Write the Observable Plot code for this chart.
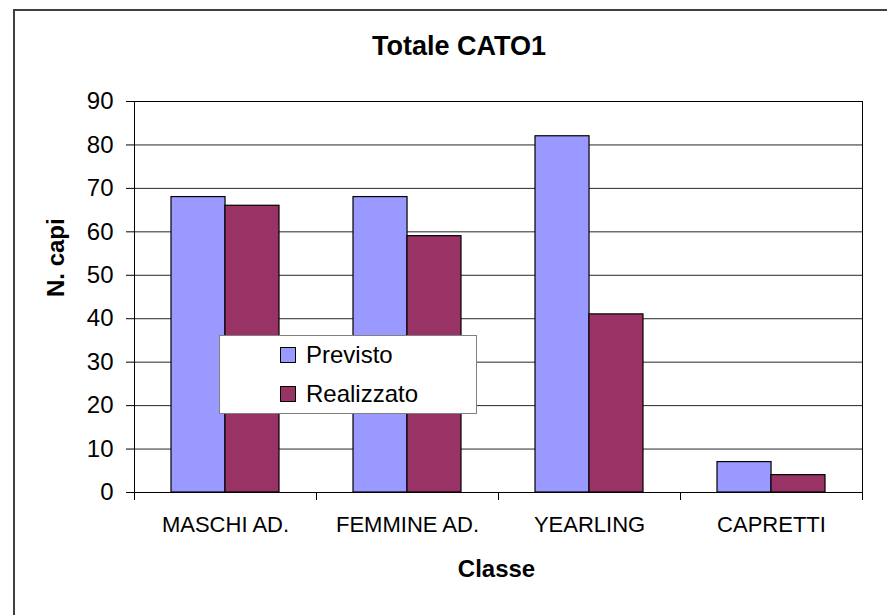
<!DOCTYPE html>
<html>
<head>
<meta charset="utf-8">
<script src="https://cdn.jsdelivr.net/npm/d3@7"></script>
<script src="https://cdn.jsdelivr.net/npm/@observablehq/plot@0.6"></script>
<style>
  html, body { margin: 0; padding: 0; background: #fff; }
  body { width: 887px; height: 615px; position: relative; overflow: hidden; font-family: "Liberation Sans", Arial, sans-serif; }
  #chart { position: absolute; left: 0; top: 0; }
  #border { position: absolute; left: 13px; top: 9px; width: 900px; height: 640px; border-left: 2px solid #404040; border-top: 2px solid #404040; }
  #title { position: absolute; left: 0; width: 918px; top: 33px; text-align: center; font-weight: bold; font-size: 27px; line-height: 27px; }
  #legend { position: absolute; left: 219px; top: 335px; width: 256px; height: 77px; background: #fff; border: 1px solid #808080; }
  .item { position: absolute; left: 60px; font-size: 24px; line-height: 24px; white-space: nowrap; }
  .sw { display: inline-block; width: 14px; height: 14px; border: 1px solid #000; vertical-align: baseline; margin-right: 10px; position: relative; top: 0px; }
</style>
</head>
<body>
<div id="border"></div>
<div id="chart"></div>
<div id="title"></div>
<div id="legend"></div>
<script>
const title = "Totale CATO1";
const categories = ["MASCHI AD.", "FEMMINE AD.", "YEARLING", "CAPRETTI"];
const series = ["Previsto", "Realizzato"];
const previsto = [68, 68, 82, 7];
const realizzato = [66, 59, 41, 4];
const colors = ["#9999FF", "#993366"];
const yTicks = [0, 10, 20, 30, 40, 50, 60, 70, 80, 90];
const xLabel = "Classe";
const yLabel = "N. capi";

const W = 887, H = 615;
const mL = 134, mR = 25, mT = 101, mB = 123;
const step = (W - mL - mR) / categories.length;
const padIn = 0.407;
const bandW = step * (1 - padIn);

const rows = categories.map((c, i) => ({cat: c, previsto: previsto[i], realizzato: realizzato[i]}));

const chart = Plot.plot({
  width: W,
  height: H,
  marginLeft: mL,
  marginRight: mR,
  marginTop: mT,
  marginBottom: mB,
  style: {fontFamily: "'Liberation Sans', Arial, sans-serif", color: "#000", background: "transparent"},
  x: {domain: categories, paddingInner: padIn, paddingOuter: padIn / 2},
  y: {domain: [0, 90]},
  marks: [
    Plot.gridY(yTicks, {stroke: "#000", strokeOpacity: 0.85}),
    Plot.barY(rows, {x: "cat", y: "previsto", fill: colors[0], stroke: "#000", strokeWidth: 1.2, insetRight: bandW / 2}),
    Plot.barY(rows, {x: "cat", y: "realizzato", fill: colors[1], stroke: "#000", strokeWidth: 1.2, insetLeft: bandW / 2}),
    Plot.frame({stroke: "#000"}),
    Plot.axisY({ticks: yTicks, tickSize: 8, tickPadding: 13, fontSize: 24, label: null, stroke: "#000"}),
    Plot.axisX({tickSize: 0, tickPadding: 24, fontSize: 22, label: null}),
    Plot.ruleX(categories, {x: d => d, dx: -step / 2, y1: 0, y2: 0, insetBottom: -8, stroke: "#000"}),
    Plot.ruleX(categories.slice(-1), {x: d => d, dx: step / 2, y1: 0, y2: 0, insetBottom: -8, stroke: "#000"}),
    Plot.text([xLabel], {frameAnchor: "bottom", text: d => d, dx: -2, dy: 77, fontSize: 24, fontWeight: "bold", lineAnchor: "middle"}),
    Plot.text([yLabel], {frameAnchor: "left", text: d => d, dx: -78, rotate: -90, fontSize: 24, fontWeight: "bold", lineAnchor: "middle"})
  ]
});
document.getElementById("chart").appendChild(chart);
document.getElementById("title").textContent = title;

const legend = document.getElementById("legend");
series.forEach((s, i) => {
  const it = document.createElement("div");
  it.className = "item";
  it.style.top = (7 + i * 39) + "px";
  const sw = document.createElement("span");
  sw.className = "sw";
  sw.style.background = colors[i];
  it.appendChild(sw);
  it.appendChild(document.createTextNode(s));
  legend.appendChild(it);
});
</script>
</body>
</html>
